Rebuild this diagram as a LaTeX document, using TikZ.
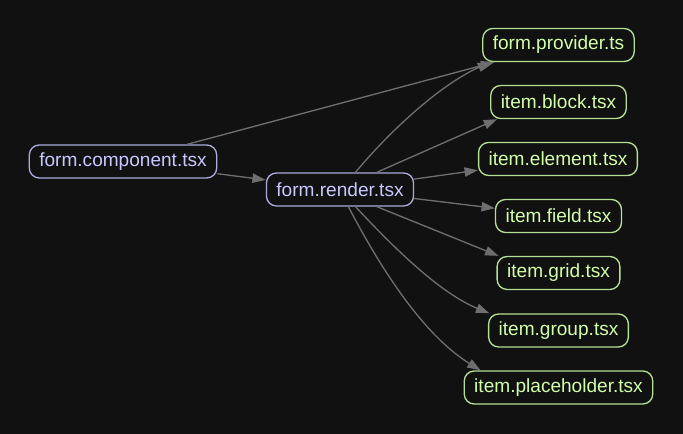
\documentclass[tikz,border=0pt]{standalone}
\usepackage{fontspec}
\setmainfont{Liberation Sans}
\usetikzlibrary{arrows.meta}
\definecolor{bgdark}{HTML}{111111}
\definecolor{lavline}{HTML}{AAAADD}
\definecolor{lavtext}{HTML}{C8C8FF}
\definecolor{grnline}{HTML}{B4E096}
\definecolor{grntext}{HTML}{D2FFAA}
\definecolor{edgegray}{HTML}{6E6E6E}
\tikzset{
  tsfile/.style={draw, rounded corners=7.5pt, line width=1pt, minimum height=24.75pt,
    inner xsep=7.5pt, inner ysep=0pt, font=\fontsize{14.3}{17}\selectfont},
  mainfile/.style={tsfile, draw=lavline, text=lavtext},
  leaffile/.style={tsfile, draw=grnline, text=grntext},
  dep/.style={draw=edgegray, line width=1pt, -{Triangle[length=10pt,width=7pt]}}
}
\begin{document}
\begin{tikzpicture}[x=0.75pt, y=-0.75pt]
  % Background
  \fill[bgdark] (0,0) rectangle (683,434);
  \useasboundingbox (0,0) rectangle (683,434);
  % Form files
  \node[mainfile] (component) at (123,161.5) {form.component.tsx};
  \node[mainfile] (render) at (340,189.5) {form.render.tsx};
  % Imported files
  \node[leaffile] (provider) at (558.5,45) {form.provider.ts};
  \node[leaffile] (block) at (558.5,102) {item.block.tsx};
  \node[leaffile] (element) at (558,159) {item.element.tsx};
  \node[leaffile] (field) at (558.5,216) {item.field.tsx};
  \node[leaffile] (grid) at (558.5,273) {item.grid.tsx};
  \node[leaffile] (group) at (558.5,330.5) {item.group.tsx};
  \node[leaffile] (placeholder) at (558.5,387.5) {item.placeholder.tsx};
  % Imports of form.component
  \draw[dep] (component) -- (provider);
  \draw[dep] (component) -- (render);
  % Imports of form.render
  \draw[dep] (render.48) .. controls (395,125) and (445,82) .. ([xshift=6.75pt]provider.south west);
  \draw[dep] (render.25) -- ([xshift=5.25pt]block.south west);
  \draw[dep] (render) -- (element);
  \draw[dep] (render) -- (field);
  \draw[dep] (render.-25) -- ([xshift=1.5pt]grid.north west);
  \draw[dep] (render.-48) .. controls (395,249) and (440,293) .. ([xshift=1pt]group.north west);
  \draw[dep] (render.-64) .. controls (383,273) and (425,336) .. ([xshift=12.75pt]placeholder.north west);
\end{tikzpicture}
\end{document}
